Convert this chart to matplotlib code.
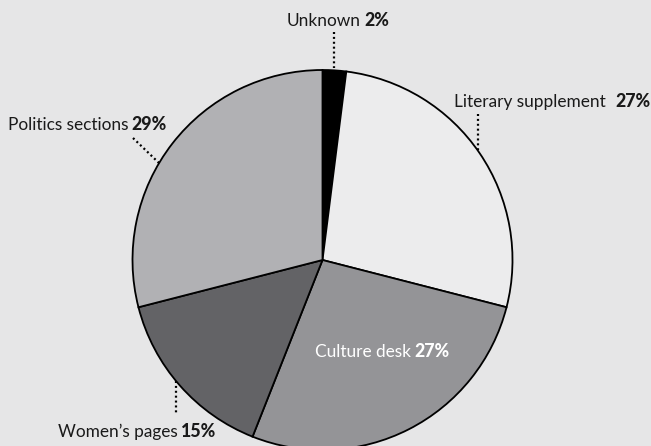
import matplotlib
matplotlib.use("Agg")
import matplotlib.pyplot as plt

categories = ["Unknown", "Literary supplement", "Culture desk", "Women\u2019s pages", "Politics sections"]
values = [2, 27, 27, 15, 29]
pct_labels = ["2%", "27%", "27%", "15%", "29%"]
colors = ["#000000", "#ececed", "#949497", "#636366", "#b1b1b4"]

W, H = 651, 446
fig = plt.figure(figsize=(W / 100, H / 100), dpi=100)
fig.patch.set_facecolor("#e6e6e7")
ax = fig.add_axes([0, 0, 1, 1])
ax.set_facecolor("#e6e6e7")

cx, cy, r = 322.5, H - 260, 190
ax.pie(values, colors=colors, startangle=90, counterclock=False,
       center=(cx, cy), radius=r, frame=False,
       wedgeprops=dict(edgecolor="black", linewidth=1.3))
ax.set_xlim(0, W)
ax.set_ylim(0, H)
ax.set_aspect("equal")
ax.axis("off")

name_font = dict(family=["Lato", "DejaVu Sans"], fontsize=12.4)
pct_font = dict(family=["Lato", "DejaVu Sans"], fontsize=12.8, fontweight="black")

def label(i, x_split, y_base, color="#1a1a1a", gap=3):
    y = H - y_base
    ax.text(x_split, y, categories[i], ha="right", va="baseline", color=color, **name_font)
    ax.text(x_split + gap, y, pct_labels[i], ha="left", va="baseline", color=color, **pct_font)

def dotted(x0, y0, x1, y1):
    ax.plot([x0, x1], [H - y0, H - y1], color="black", linewidth=1.6,
            linestyle=(0, (0.9, 1.3)), solid_capstyle="butt", dash_capstyle="butt")

label(0, 361, 26)
label(1, 606, 107, gap=9)
label(2, 411, 357, color="white")
label(3, 178, 437)
label(4, 128, 130)

dotted(334, 32, 334, 68)
dotted(478, 114, 478, 150)
dotted(133, 138, 159, 163)
dotted(176, 381, 176, 415)

fig.savefig("out.png", dpi=100, facecolor=fig.get_facecolor())
